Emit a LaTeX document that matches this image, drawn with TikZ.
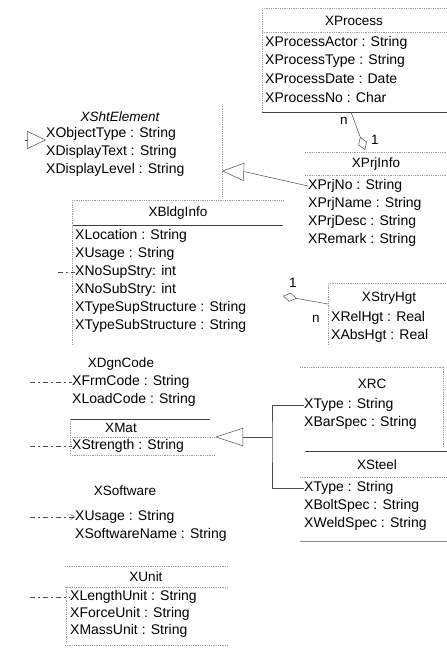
\documentclass[tikz,border=0pt]{standalone}
\usepackage{fontspec}
\setmainfont{Liberation Sans}
\usetikzlibrary{arrows.meta}

\begin{document}
\begin{tikzpicture}[
        x=1pt, y=-1pt,
        attr/.style={font=\fontsize{14}{17}\selectfont, anchor=west, inner sep=0pt},
        cname/.style={font=\fontsize{13.5}{16}\selectfont, inner sep=0pt},
        card/.style={font=\fontsize{13.5}{16}\selectfont, inner sep=0pt},
        edge/.style={gray!75, line width=0.6pt, dash pattern=on 1pt off 0.8pt},
        rule/.style={black!75, line width=0.6pt},
        link/.style={black!70, line width=0.5pt},
        stub/.style={black!70, line width=0.5pt, dash pattern=on 5pt off 3pt on 2pt off 3pt},
        gen/.style={link, -{Triangle[open, length=#1, width=18pt]}},
        gen/.default=22pt,
        agg/.style={link, {Turned Square[open, length=14pt, width=9pt]}-}]

    \useasboundingbox (0,0) rectangle (447,651);

    % --- XProcess
    \draw[edge] (262,8) -- (447,8);
    \draw[edge] (262,32) -- (447,32);
    \draw[edge] (262,8) -- (262,112);
    \draw[rule] (262,112) -- (447,112);
    \node[cname] (proc) at (354,21) {XProcess};
    \foreach \i/\txt in {1/XProcessActor : String, 2/XProcessType : String,
                         3/XProcessDate : Date, 4/XProcessNo : Char}
        \node[attr] (proc-\i) at (265,{25+18*\i}) {\txt};

    % --- XPrjInfo
    \draw[edge] (305,152) -- (447,152);
    \draw[edge] (305,175) -- (447,175);
    \node[cname] (prj) at (376,164) {XPrjInfo};
    \foreach \i/\txt in {1/XPrjNo : String, 2/XPrjName : String,
                         3/XPrjDesc : String, 4/XRemark : String}
        \node[attr] (prj-\i) at (308,{168+18*\i}) {\txt};

    % --- XProcess n -- 1 XPrjInfo
    \coordinate (proc-b) at (351,112);
    \coordinate (prj-t) at (365,150);
    \draw[agg] (prj-t) -- (proc-b);
    \node[card] (proc-n) at (344,121) {n};
    \node[card] (prj-one) at (375,140) {1};

    % --- XShtElement
    \node[cname, font=\fontsize{13.5}{16}\selectfont\itshape] (sht) at (120,117) {XShtElement};
    \foreach \i/\txt in {1/XObjectType : String, 2/XDisplayText : String,
                         3/XDisplayLevel : String}
        \node[attr] (sht-\i) at (46,{116+18*\i}) {\txt};
    \draw[edge] (222,104) -- (222,196);
    \coordinate (sht-l) at (25,140);
    \coordinate (sht-r) at (222,171);
    \draw[gen=19pt] (sht-l) -- (sht-1.west |- sht-l);
    \draw[gen] (prj-1.west) -- (246,172) -- (sht-r);

    % --- XBldgInfo
    \draw[edge] (72,200) -- (283,200);
    \draw[rule] (72,225) -- (283,225);
    \draw[edge] (72,200) -- (72,345);
    \node[cname] (bldg) at (178,213) {XBldgInfo};
    \foreach \i/\txt in {1/XLocation : String, 2/XUsage : String,
                         3/XNoSupStry: int, 4/XNoSubStry: int,
                         5/XTypeSupStructure : String, 6/XTypeSubStructure : String}
        \node[attr] (bldg-\i) at (75,{218+18*\i}) {\txt};
    \coordinate (bldg-s) at (58,272);
    \draw[stub] (bldg-s) -- (bldg-3.west);

    % --- XStryHgt
    \draw[edge] (328,283) -- (447,283);
    \draw[edge] (328,283) -- (328,346);
    \node[cname] (stry) at (389,298) {XStryHgt};
    \foreach \i/\txt in {1/XRelHgt : Real, 2/XAbsHgt : Real}
        \node[attr] (stry-\i) at (331,{300+18*\i}) {\txt};

    % --- XBldgInfo 1 -- n XStryHgt
    \coordinate (bldg-r) at (283,296);
    \coordinate (stry-l) at (328,304);
    \draw[agg] (bldg-r) -- (stry-l);
    \node[card] (bldg-one) at (293,283) {1};
    \node[card] (stry-n) at (316,319) {n};

    % --- XDgnCode
    \node[cname] (dgn) at (121,364) {XDgnCode};
    \foreach \i/\txt in {1/XFrmCode : String, 2/XLoadCode : String}
        \node[attr] (dgn-\i) at (72,{364+18*\i}) {\txt};
    \draw[rule] (70,419) -- (210,419);
    \coordinate (dgn-s) at (30,382);
    \draw[stub] (dgn-s) -- (dgn-1.west);

    % --- XMat
    \node[cname] (mat) at (121,428) {XMat};
    \draw[edge] (70,437) -- (215,437);
    \draw[edge] (70,455) -- (215,455);
    \draw[edge] (70,419) -- (70,455);
    \node[attr] (mat-1) at (72,446) {XStrength : String};
    \coordinate (mat-s) at (30,446);
    \draw[stub] (mat-s) -- (mat-1.west);

    % --- XRC
    \draw[edge] (300,367) -- (443,367);
    \draw[edge] (443,367) -- (443,448);
    \node[cname] (rc) at (372,384) {XRC};
    \foreach \i/\txt in {1/XType : String, 2/XBarSpec : String}
        \node[attr] (rc-\i) at (304,{387+18*\i}) {\txt};

    % --- XSteel
    \draw[rule] (305,451) -- (447,451);
    \draw[edge] (300,477) -- (447,477);
    \node[cname] (steel) at (377,465) {XSteel};
    \foreach \i/\txt in {1/XType : String, 2/XBoltSpec : String, 3/XWeldSpec : String}
        \node[attr] (steel-\i) at (304,{470+18*\i}) {\txt};
    \draw[rule, black!45] (300,541) -- (447,541);

    % --- XRC, XSteel --> XMat
    \coordinate (jn) at (272,437);
    \coordinate (mat-r) at (215,437);
    \draw[link] (rc-1.west) -| (jn) |- (steel-1.west);
    \draw[gen=28pt] (jn) -- (mat-r);

    % --- XSoftware
    \node[cname] (soft) at (125,491) {XSoftware};
    \foreach \i/\txt in {1/XUsage : String, 2/XSoftwareName : String}
        \node[attr] (soft-\i) at (75,{499+18*\i}) {\txt};
    \coordinate (soft-s) at (30,517);
    \draw[stub, -{Straight Barb[length=4pt, width=5pt]}] (soft-s) -- (soft-1.west);

    % --- XUnit
    \draw[edge] (65,566) -- (228,566);
    \draw[edge] (65,587) -- (228,587);
    \draw[edge] (65,645) -- (228,645);
    \draw[edge] (66,587) -- (66,642);
    \node[cname] (unit) at (146,577) {XUnit};
    \foreach \i/\txt in {1/XLengthUnit : String, 2/XForceUnit : String, 3/XMassUnit : String}
        \node[attr] (unit-\i) at (70,{580+17*\i}) {\txt};
    \coordinate (unit-s) at (30,597);
    \draw[stub] (unit-s) -- (unit-1.west);

\end{tikzpicture}
\end{document}
